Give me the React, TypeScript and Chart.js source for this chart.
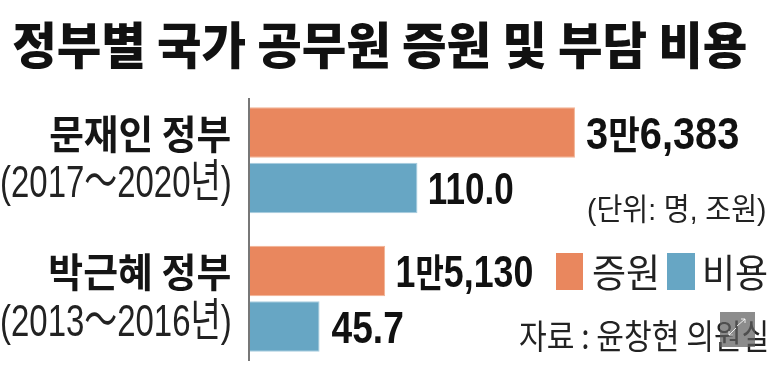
import React, { useEffect, useRef } from 'react';
import { Chart, registerables } from 'chart.js';

Chart.register(...registerables);

// ---------- data ----------
const titleText = '정부별 국가 공무원 증원 및 부담 비용';
const governments = ['문재인 정부', '박근혜 정부'];
const periods = ['(2017～2020년)', '(2013～2016년)'];
const seriesNames = ['증원', '비용'];
const staffIncrease = [36383, 15130]; // 명
const costTrillionWon = [110.0, 45.7]; // 조원
const unitText = '(단위: 명, 조원)';
const sourceText = '자료 : 윤창현 의원실';

// ---------- styles / layout ----------
const ORANGE = '#E9875E';
const ORANGE_EDGE = '#F2B394';
const BLUE = '#67A6C4';
const BLUE_EDGE = '#A9CDE0';
const HANGUL = '"Noto Sans CJK KR"';
const LATIN = '"Liberation Sans"';
// visible ink widths of the value labels [series][category]
const VALUE_INK_W = [
  [151, 135],
  [83, 71],
];
const VALUE_CAP_H = 31.5;

function fmtIncrease(v: number): string {
  const man = Math.floor(v / 10000);
  const rest = v % 10000;
  return (man > 0 ? man + '만' : '') + rest.toLocaleString('en-US');
}
function fmtCost(v: number): string {
  return v.toFixed(1);
}

function fitInk(
  ctx: CanvasRenderingContext2D,
  text: string,
  font: string,
  x0: number,
  x1: number,
  cy: number,
  h: number,
  color: string
) {
  ctx.save();
  ctx.font = font;
  ctx.textAlign = 'left';
  ctx.textBaseline = 'alphabetic';
  const m = ctx.measureText(text);
  const inkL = m.actualBoundingBoxLeft;
  const inkW = m.actualBoundingBoxLeft + m.actualBoundingBoxRight;
  const inkH = m.actualBoundingBoxAscent + m.actualBoundingBoxDescent;
  const sx = (x1 - x0) / inkW;
  const sy = h / inkH;
  ctx.translate(x0 + inkL * sx, cy - h / 2 + m.actualBoundingBoxAscent * sy);
  ctx.scale(sx, sy);
  ctx.fillStyle = color;
  ctx.fillText(text, 0, 0);
  ctx.restore();
}

function drawValue(
  ctx: CanvasRenderingContext2D,
  text: string,
  x0: number,
  inkTarget: number,
  centerY: number,
  capH: number,
  color: string
) {
  const size = 44;
  const runs = text.match(/[\uAC00-\uD7A3]+|[^\uAC00-\uD7A3]+/g) || [];
  const fonts = runs.map((r) =>
    /[\uAC00-\uD7A3]/.test(r) ? `700 ${Math.round(size * 0.86)}px ${HANGUL}` : `700 ${size}px ${LATIN}`
  );
  ctx.save();
  ctx.textBaseline = 'alphabetic';
  ctx.textAlign = 'left';
  ctx.font = `700 ${size}px ${LATIN}`;
  const cap = ctx.measureText('0').actualBoundingBoxAscent;
  const sy = capH / cap;
  let adv = 0;
  let start = 0;
  let end = 0;
  const widths: number[] = [];
  runs.forEach((r, k) => {
    ctx.font = fonts[k];
    const m = ctx.measureText(r);
    if (k === 0) start = -m.actualBoundingBoxLeft;
    if (k === runs.length - 1) end = adv + m.actualBoundingBoxRight;
    widths.push(m.width);
    adv += m.width;
  });
  const sx = inkTarget / (end - start);
  ctx.translate(x0 - start * sx, centerY + capH / 2);
  ctx.scale(sx, sy);
  ctx.fillStyle = color;
  let x = 0;
  runs.forEach((r, k) => {
    ctx.font = fonts[k];
    ctx.fillText(r, x, 0);
    x += widths[k];
  });
  ctx.restore();
}

const decorPlugin = {
  id: 'decor',
  afterDatasetsDraw(chart: any) {
    const ctx: CanvasRenderingContext2D = chart.ctx;
    const area = chart.chartArea;
    const yScale = chart.scales.y;

    // vertical axis line
    ctx.save();
    ctx.strokeStyle = '#4a4a4a';
    ctx.lineWidth = 1.5;
    ctx.beginPath();
    ctx.moveTo(area.left - 1, area.top + 7);
    ctx.lineTo(area.left - 1, area.bottom - 7);
    ctx.stroke();
    ctx.restore();

    // title
    fitInk(ctx, titleText, `900 56px ${HANGUL}`, 13, 746, 45.5, 49, '#111');

    // category labels
    governments.forEach((g, i) => {
      const cy = yScale.getPixelForValue(i);
      fitInk(ctx, g, `700 44px ${HANGUL}`, 50, 230, cy - 26.5, 38.5, '#151515');
      fitInk(ctx, periods[i], `400 50px ${LATIN}, ${HANGUL}`, 2, 230, cy + 22.5, 47, '#222');
    });

    // value labels
    chart.data.datasets.forEach((ds: any, di: number) => {
      const meta = chart.getDatasetMeta(di);
      meta.data.forEach((bar: any, i: number) => {
        const v = ds.data[i] as number;
        const text = di === 0 ? fmtIncrease(v) : fmtCost(v);
        drawValue(ctx, text, bar.x + 12, VALUE_INK_W[di][i], bar.y + 0.5, VALUE_CAP_H, '#111');
      });
    });

    // unit note
    fitInk(ctx, unitText, `400 32px ${LATIN}, ${HANGUL}`, 588, 765, 211, 32, '#222');

    // legend
    ctx.save();
    ctx.fillStyle = ORANGE;
    ctx.fillRect(556, 253, 27, 37);
    ctx.fillStyle = BLUE;
    ctx.fillRect(667, 253, 28, 37);
    ctx.restore();
    fitInk(ctx, seriesNames[0], `400 36px ${HANGUL}`, 593, 657, 272, 36, '#222');
    fitInk(ctx, seriesNames[1], `400 36px ${HANGUL}`, 705, 767, 272, 36, '#222');

    // source
    fitInk(ctx, sourceText, `400 32px ${HANGUL}`, 520, 767, 336.5, 33, '#222');

    // viewer overlay button (part of the screenshot)
    ctx.save();
    ctx.fillStyle = 'rgba(95,95,95,0.72)';
    ctx.fillRect(720, 312, 35, 35);
    ctx.strokeStyle = 'rgba(255,255,255,0.85)';
    ctx.lineWidth = 1;
    ctx.beginPath();
    ctx.moveTo(737, 326);
    ctx.lineTo(745, 319);
    ctx.moveTo(741, 319);
    ctx.lineTo(745, 319);
    ctx.lineTo(745, 323);
    ctx.moveTo(736, 328);
    ctx.lineTo(729, 335);
    ctx.moveTo(729, 331);
    ctx.lineTo(729, 335);
    ctx.lineTo(733, 335);
    ctx.stroke();
    ctx.restore();
  },
};

export default function App() {
  const canvasRef = useRef<HTMLCanvasElement | null>(null);

  useEffect(() => {
    if (!canvasRef.current) return;
    const chart = new Chart(canvasRef.current, {
      type: 'bar',
      data: {
        labels: governments,
        datasets: [
          {
            label: seriesNames[0],
            data: staffIncrease,
            xAxisID: 'x',
            backgroundColor: ORANGE,
            borderColor: ORANGE_EDGE,
            borderWidth: 1,
            borderSkipped: 'start',
            categoryPercentage: 0.8,
            barPercentage: 0.91,
          },
          {
            label: seriesNames[1],
            data: costTrillionWon,
            xAxisID: 'x2',
            backgroundColor: BLUE,
            borderColor: BLUE_EDGE,
            borderWidth: 1,
            borderSkipped: 'start',
            categoryPercentage: 0.8,
            barPercentage: 0.91,
          },
        ],
      },
      options: {
        indexAxis: 'y',
        animation: false,
        responsive: true,
        maintainAspectRatio: false,
        layout: { padding: { left: 250, right: 13, top: 91, bottom: 9 } },
        scales: {
          y: { type: 'category', display: false },
          x: { type: 'linear', display: false, min: 0, max: 57100 },
          x2: { type: 'linear', display: false, min: 0, max: 335 },
        },
        plugins: {
          legend: { display: false },
          tooltip: { enabled: false },
          title: { display: false },
        },
      } as any,
      plugins: [decorPlugin],
    });
    return () => chart.destroy();
  }, []);

  return (
    <div style={{ position: 'absolute', left: 0, top: 0, width: 773, height: 377, background: '#fff' }}>
      <canvas ref={canvasRef} />
    </div>
  );
}
